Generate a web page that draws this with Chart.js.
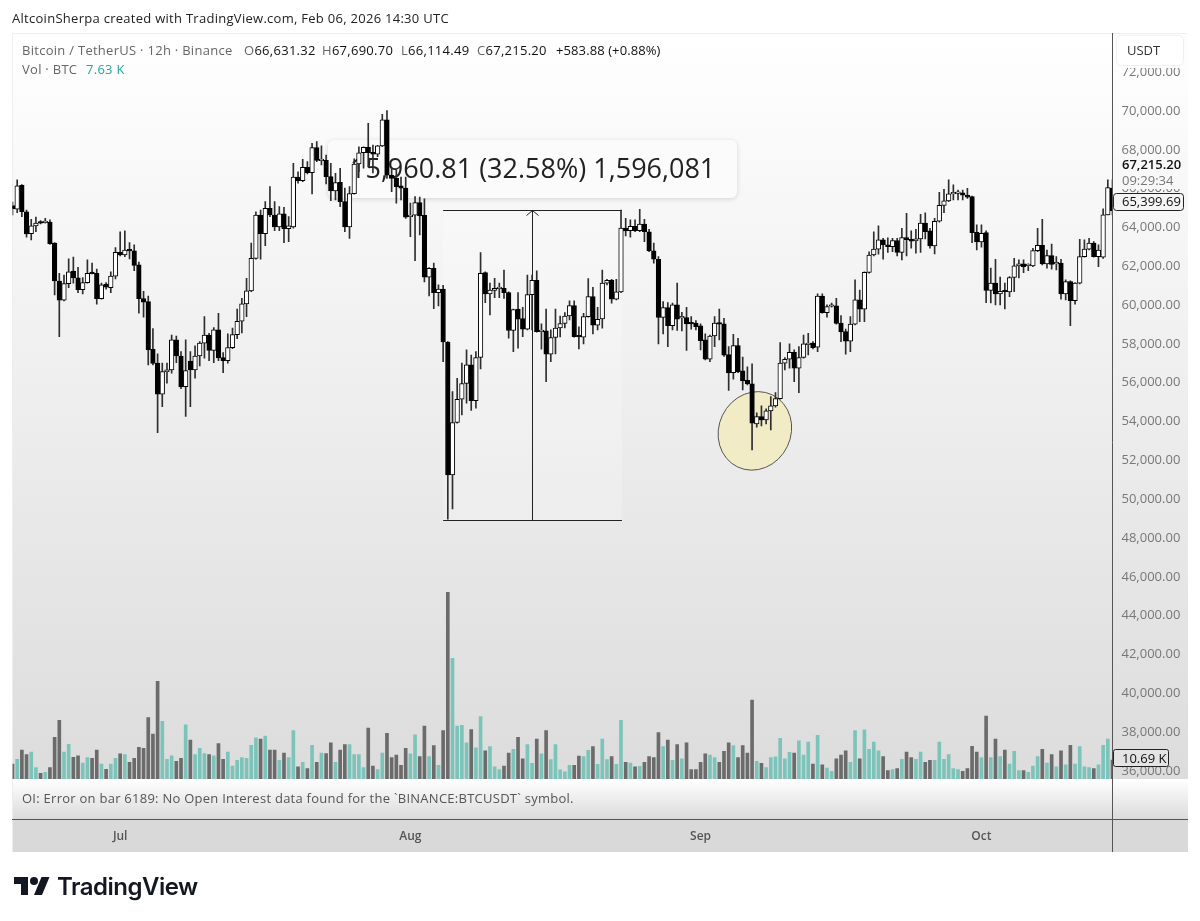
<!DOCTYPE html>
<html>
<head>
<meta charset="utf-8">
<title>BTCUSDT 12h</title>
<script src="https://cdn.jsdelivr.net/npm/chart.js@4/dist/chart.umd.js"></script>
<style>
html, body { margin: 0; padding: 0; background: #fff; }
#wrap { position: relative; width: 1200px; height: 921px; overflow: hidden; font-family: "Open Sans", sans-serif; }
#chart { position: absolute; left: 0; top: 0; }
.txt { position: absolute; font-size: 13px; line-height: 16px; white-space: nowrap; color: #666; letter-spacing: 0.28px; }
.txt b { font-weight: 400; color: #111; }
#logo { position: absolute; left: 14px; top: 875px; }
#brand { position: absolute; left: 57px; top: 869px; font: 600 24px/36px Inter, sans-serif; color: #131722; letter-spacing: -0.5px; }
</style>
</head>
<body>
<div id="wrap">
  <canvas id="chart" width="1200" height="921"></canvas>
  <div class="txt" style="left:12px;top:10px;color:#222">AltcoinSherpa created with TradingView.com, Feb 06, 2026 14:30 UTC</div>
  <div class="txt" style="left:22px;top:42px">Bitcoin / TetherUS · 12h · Binance</div>
  <div class="txt" style="left:244px;top:42px">O<b>66,631.32</b></div>
  <div class="txt" style="left:322px;top:42px">H<b>67,690.70</b></div>
  <div class="txt" style="left:401px;top:42px">L<b>66,114.49</b></div>
  <div class="txt" style="left:477px;top:42px">C<b>67,215.20</b></div>
  <div class="txt" style="left:556px;top:42px;letter-spacing:0.1px"><b>+583.88 (+0.88%)</b></div>
  <div class="txt" style="left:22px;top:61px">Vol · BTC</div>
  <div class="txt" style="left:86px;top:61px;color:#26a69a">7.63 K</div>
  <div class="txt" style="left:22px;top:790px;color:#555;letter-spacing:0.26px">OI: Error on bar 6189: No Open Interest data found for the `BINANCE:BTCUSDT` symbol.</div>
  <svg id="logo" width="36" height="22" viewBox="0 0 36 22"><path fill="#131722" d="M14 20H7V9H0V2h14v18zM28 20h-8l7.5-18h8L28 20z"/><circle fill="#131722" cx="20" cy="6" r="4"/></svg>
  <div id="brand">TradingView</div>
</div>
<script>
const opens = [
  65130,64940,66170,64810,63680,64080,64250,64250,64280,63190,
  61240,60250,61110,61750,61400,60800,61160,61660,61640,60330,
  61080,60900,61490,62720,62580,62840,62790,62080,60330,60180,
  57730,57010,55410,56570,56660,58210,57380,55800,57110,56660,
  57380,58040,58460,57660,58720,57300,57140,57810,58480,59170,
  60060,60730,62410,64640,63680,64990,64640,64030,64700,63940,
  64030,66590,66410,67100,66820,68110,67440,67460,66620,65880,
  66330,65330,64030,65740,67270,67850,68130,67870,67770,68200,
  69540,66700,66530,66140,66030,64560,64630,65280,64630,61440,
  61900,60640,60820,58100,51250,53950,55150,55960,56920,55080,
  57300,61670,60580,60750,60850,60870,60640,58690,59790,59300,
  58760,60540,61280,58630,58670,57470,58330,58820,59050,59440,
  59970,58410,58350,59410,60440,58960,59290,61130,61280,60300,
  60680,63970,63840,64060,63840,64170,63780,62790,62360,59360,
  59870,58940,60010,59340,59360,59070,59070,58930,58210,57210,
  58410,59080,59030,57450,56520,57910,56610,56130,55940,53880,
  54260,54090,54550,54810,55180,57010,57210,57570,56750,57300,
  57960,58040,57830,60470,59610,59940,59960,59070,58630,58140,
  59020,60270,59790,61690,62580,62880,63360,63110,63010,63320,
  62720,63480,63390,63310,63410,64220,63820,63050,64320,65140,
  65370,65730,65760,65790,65670,65590,63750,63250,63730,60750,
  61130,60580,60750,60680,61420,62020,62120,62030,62020,62810,
  63080,62120,62550,62120,62160,60580,61210,60230,61130,62500,
  62880,63190,62500,62470,64650,66030
];
const highs = [
  65310,66450,66210,64900,64420,64530,64350,64470,64390,63220,
  61640,61550,62380,62470,61950,61420,62330,62160,61850,61130,
  61160,61720,62960,63780,63820,63220,63100,62220,60710,60470,
  58790,57490,57010,57010,58450,58410,57600,58210,57600,57900,
  58120,59410,58550,58840,59580,57550,58520,58820,59790,60350,
  61380,63190,64810,64900,65330,66100,65330,65070,65040,64560,
  67310,66870,67510,67390,68340,68420,68200,67730,67310,66790,
  67050,66030,66100,67530,68160,68160,69370,68250,68230,69830,
  70020,67060,66960,66590,66600,65260,65590,65560,65480,61930,
  62160,61040,61020,58120,55550,56230,57010,57690,57430,57600,
  62700,61710,61130,61380,61140,61810,60690,59800,60640,59890,
  61550,61550,61760,59030,59800,58720,59800,59440,59610,60220,
  60220,58880,59580,61360,60920,59890,61810,61330,61330,61330,
  64900,64470,64390,64390,64940,64420,63910,63190,62500,60180,
  60130,60110,61130,59630,59890,59410,59200,59030,58520,58460,
  59410,59790,59320,57860,58500,58290,57320,56820,56970,54450,
  54810,54650,55290,55490,58070,57290,58000,57690,57860,58460,
  58550,58120,60580,60580,60010,60110,60350,59460,58770,59410,
  61300,60780,61720,62750,63780,64080,63440,63460,63440,63440,
  63960,64730,63820,63910,64680,64760,63960,64470,65810,65970,
  66450,66190,65930,65930,66020,65620,64130,64130,63820,61910,
  62360,61440,61130,61470,62410,62330,62330,62120,62930,63960,
  64420,62840,63150,62500,62360,61300,61250,61160,63390,63360,
  63440,63270,63100,64960,66450,66450
];
const lows = [
  64640,64760,64560,63500,63360,63780,64180,64220,63130,60520,
  58380,60220,60900,61130,60640,60580,61130,61610,60050,60300,
  60820,60640,61350,62530,62500,62380,61770,59580,59380,56920,
  56920,53430,54770,55980,56490,57040,55700,54260,54770,56230,
  56870,57260,57140,57040,57140,56520,57010,57760,58270,58570,
  59410,60690,62360,62360,63060,64560,63840,63840,63220,63270,
  63960,66280,66360,66760,65730,67390,67220,66240,65380,65420,
  65070,63780,63440,65710,66870,67060,67130,66810,67650,68160,
  66530,65840,65250,65420,64470,63530,62290,63610,61190,60470,
  59820,59960,57090,48970,49500,53920,54340,54950,54570,54690,
  56710,60130,59490,60380,60380,60350,58290,57600,57780,58380,
  58720,58720,58600,57730,56060,57090,57490,58360,58820,59240,
  58350,57740,58000,59380,58520,58720,58810,61040,60100,60270,
  60640,63560,63500,63780,63780,63270,62750,62160,58000,58520,
  57860,58720,58690,58670,57660,58760,58720,57690,57180,57090,
  57860,58210,57350,55600,56180,56520,55630,55890,52540,53710,
  53780,53880,53570,54740,55150,56660,56750,56060,55490,57260,
  57430,57740,57600,59580,59380,59890,59020,58120,57470,57600,
  58980,59150,59150,61640,62530,62620,62360,62720,62750,62530,
  62330,62530,62930,62670,62720,63410,62930,62640,64270,64760,
  65330,65420,65420,65420,65500,63220,62840,62980,60130,60110,
  60010,60010,59800,60440,60690,61400,61670,61780,61980,62750,
  62070,61900,61850,61810,60300,60270,58940,60050,61090,62470,
  62840,62470,61980,62410,64640,64640
];
const closes = [
  64970,66140,64810,63670,64080,64220,64220,64280,63170,61240,
  60250,61110,61720,61400,60800,61160,61640,61620,60330,61050,
  60920,61490,62720,62580,62840,62790,62050,60330,60150,57690,
  56990,55410,56570,56660,58210,57380,55790,56630,56660,57380,
  58040,58450,57660,58720,57280,57140,57810,58480,59170,60060,
  60730,62410,64640,63680,64990,64640,64030,64700,63940,64080,
  66590,66410,67100,66820,68110,67460,67480,66620,65880,66310,
  65330,64030,65740,67270,67850,68130,67850,67770,68200,69540,
  66700,66530,66100,66030,64530,64630,65280,64590,61440,61900,
  60640,60820,58100,51250,53950,55150,55960,56920,55080,57300,
  61640,60580,60780,60870,60880,60640,58690,59770,59270,58760,
  60540,61280,58630,58670,57470,58330,58820,59050,59440,59970,
  58380,58360,59410,60440,58960,59270,61130,61280,60300,60680,
  63970,63820,64060,63840,64170,63780,62790,62360,59360,59870,
  58940,60010,59270,59380,59030,59030,58890,58170,57210,58410,
  59070,59020,57420,56510,57910,56560,56100,55940,53920,54260,
  54090,54550,54810,55180,57010,57210,57570,56750,57300,58000,
  58040,57810,60470,59610,59920,59970,59050,58620,58140,59020,
  60270,59790,61690,62580,62880,63360,63100,63010,63320,62720,
  63480,63370,63290,63410,64220,63780,63050,64320,65140,65370,
  65730,65760,65790,65660,65560,63730,63250,63700,60750,61130,
  60580,60710,60690,61420,62020,62120,61980,62030,62810,63080,
  62120,62550,62100,62160,60580,61210,60230,61130,62500,62880,
  63190,62500,62840,64650,66050,64870
];
// volume in thousands of BTC
const volumes = [
  8.4,11.1,16.3,13.7,15.2,6.4,3.2,3.8,6.4,23.4,
  33,15.2,19.5,12.2,13.1,9,12,11.6,16.3,8.4,
  5.4,8.4,11.6,14.1,13.7,9.4,11.6,17.8,17.3,34.5,
  25.3,54.9,32.4,11.1,13.1,9.9,11.6,30.4,21.9,13.7,
  17.3,14.3,13.7,13.1,19.9,11.1,15.2,7.3,10.5,12,
  11.6,18.9,23.1,22.5,24.2,16.3,16.3,10.5,14.6,12,
  27.2,6.8,9.4,5.8,18.9,9.4,14.6,14.3,20.4,9.4,
  16.3,19.3,19.3,13.7,13.7,6.4,28.7,7.3,5.3,14.6,
  25.7,12,13.5,7.7,17.3,14.1,24.9,12.6,29.8,12.6,
  18.8,7.7,27.2,105,67.9,29.8,30.2,20.4,27.8,17.6,
  35.1,15.8,18.2,6.8,5.3,7.3,14.6,16.7,23.4,11.4,
  19.3,8.8,22.5,14.1,27.2,10.9,19.3,5.1,4.1,7.7,
  7.7,12.9,12.6,16.1,18.2,8.3,22.5,10.9,12.6,8.3,
  33,9.4,9,6.8,7.1,9.4,12.6,12,26.1,18.2,
  21.9,10.5,19.3,11.4,20.4,5.3,5.3,9.4,14.1,13.5,
  12,9.4,15.6,20.4,18.8,12,18.8,14.6,44.4,9.9,
  8.8,6.4,12,12.4,22.9,11.4,15,14.6,21.4,13.5,
  20.8,8.4,24.6,7.9,6.2,4.3,11.4,13.5,15.8,9.4,
  27.2,11.4,27.6,16.7,20.8,15.8,12.6,4.7,5.3,5.8,
  11.1,15.2,12,11.1,15.2,9.4,10.5,10.5,20.8,11.1,
  13.7,5.8,5.3,4.3,5.8,18.4,15.2,12,35.4,12,
  22.5,12.6,16.3,8.4,15.6,4.7,4.7,3.8,7.3,12.6,
  16.7,9,13.7,6.8,15.8,7.9,18.9,8.4,18.2,6.8,
  6.4,5.8,7.9,18.9,22.5,10.7
];
const monthNames = ['Jul', 'Aug', 'Sep', 'Oct'];
const monthIndexes = [23, 85, 147, 207];
const priceTicks = [36000,38000,40000,42000,44000,46000,48000,50000,52000,54000,56000,58000,60000,62000,64000,66000,68000,70000,72000];
const lastPrice = '67,215.20';
const countdown = '09:29:34';
const crossPrice = '65,399.69';
const crossVolume = '10.69 K';
const rangeLabel = '15,960.81 (32.58%) 1,596,081';
const rangeLow = 48910;
const rangeHigh = 64870;
const rangeFrom = 92;
const rangeTo = 130.2;
const circleIndex = 158.6;
const circlePrice = 53520;

const labels = opens.map(function(o, i) {
    const m = monthIndexes.indexOf(i);
    return m >= 0 ? monthNames[m] : '';
});
const isUp = opens.map(function(o, i) { return closes[i] >= o; });
const uiFont = '"Open Sans", sans-serif';

function box(ctx, x, y, w, h, r, fill, stroke) {
    ctx.beginPath();
    ctx.roundRect(x, y, w, h, r);
    if (fill) { ctx.fillStyle = fill; ctx.fill(); }
    if (stroke) { ctx.strokeStyle = stroke; ctx.lineWidth = 1; ctx.stroke(); }
}

const panelPlugin = {
    id: 'panel',
    beforeDraw: function(chart) {
        const ctx = chart.ctx;
        ctx.save();
        let g = ctx.createLinearGradient(0, 34, 0, 779);
        g.addColorStop(0, '#ffffff');
        g.addColorStop(1, '#dcdcdc');
        ctx.fillStyle = g;
        ctx.fillRect(12, 33, 1176, 746);
        g = ctx.createLinearGradient(0, 779, 0, 820);
        g.addColorStop(0, '#ffffff');
        g.addColorStop(1, '#dadada');
        ctx.fillStyle = g;
        ctx.fillRect(12, 779, 1176, 41);
        ctx.fillStyle = '#d9d9d9';
        ctx.fillRect(12, 820, 1176, 32);
        ctx.strokeStyle = '#eeeeee';
        ctx.beginPath();
        ctx.moveTo(12.5, 852);
        ctx.lineTo(12.5, 33.5);
        ctx.lineTo(1187.5, 33.5);
        ctx.stroke();
        ctx.restore();
    },
    beforeDatasetsDraw: function(chart) {
        const ctx = chart.ctx;
        const x = chart.scales.x;
        const y = chart.scales.y;
        const x1 = x.getPixelForValue(rangeFrom);
        const x2 = x.getPixelForValue(rangeTo);
        const yLow = Math.floor(y.getPixelForValue(rangeLow)) + 0.5;
        const yHigh = Math.floor(y.getPixelForValue(rangeHigh)) + 0.5;
        const xMid = Math.floor((x1 + x2) / 2) + 0.5;
        ctx.save();
        // price range drawing
        ctx.fillStyle = 'rgba(255,255,255,0.22)';
        ctx.fillRect(x1, yHigh, x2 - x1, yLow - yHigh);
        ctx.strokeStyle = '#222';
        ctx.lineWidth = 1;
        ctx.beginPath();
        ctx.moveTo(x1, yHigh); ctx.lineTo(x2, yHigh);
        ctx.moveTo(x1, yLow); ctx.lineTo(x2, yLow);
        ctx.moveTo(xMid, yLow); ctx.lineTo(xMid, yHigh);
        ctx.moveTo(xMid - 6, yHigh + 5); ctx.lineTo(xMid, yHigh); ctx.lineTo(xMid + 6, yHigh + 5);
        ctx.stroke();
        // range label sits under the candles
        ctx.shadowColor = 'rgba(0,0,0,0.15)';
        ctx.shadowBlur = 5;
        ctx.shadowOffsetY = 1;
        box(ctx, 328, 140, 409, 58, 6, '#fbfbfb');
        ctx.shadowColor = 'transparent';
        ctx.fillStyle = '#222';
        ctx.font = '27px ' + uiFont;
        ctx.textBaseline = 'middle';
        ctx.fillText(rangeLabel, 350, 170);
        // circle around the low
        const cx = x.getPixelForValue(circleIndex);
        const cy = y.getPixelForValue(circlePrice);
        ctx.beginPath();
        ctx.ellipse(cx, cy, 36, 40, 0.45, 0, Math.PI * 2);
        ctx.fillStyle = '#f1ebc6';
        ctx.fill();
        ctx.strokeStyle = '#555';
        ctx.stroke();
        ctx.restore();
    },
    afterDraw: function(chart) {
        const ctx = chart.ctx;
        ctx.save();
        ctx.strokeStyle = '#555';
        ctx.lineWidth = 1;
        ctx.beginPath();
        ctx.moveTo(1112.5, 33);
        ctx.lineTo(1112.5, 852);
        ctx.moveTo(12, 819.5);
        ctx.lineTo(1188, 819.5);
        ctx.stroke();

        // axis labels on the price scale
        ctx.textBaseline = 'middle';
        ctx.fillStyle = '#fdfdfd';
        ctx.fillRect(1114, 34, 73, 34);
        box(ctx, 1116.5, 35.5, 67, 30, 5, '#ffffff', '#f0f0f0');
        ctx.fillStyle = '#333';
        ctx.font = '13px ' + uiFont;
        ctx.fillText('USDT', 1127, 51);

        ctx.fillStyle = '#f8f8f8';
        ctx.fillRect(1114, 157, 72, 32);
        ctx.fillStyle = '#111';
        ctx.font = '600 13px ' + uiFont;
        ctx.fillText(lastPrice, 1122, 165);
        ctx.fillStyle = '#777';
        ctx.font = '13px ' + uiFont;
        ctx.fillText(countdown, 1122, 181);

        box(ctx, 1113.5, 193.5, 70, 17, 3, '#f4f4f4', '#222');
        ctx.fillStyle = '#111';
        ctx.fillText(crossPrice, 1122, 202);

        box(ctx, 1113.5, 749.5, 55, 17, 2, '#e4e4e4', '#222');
        ctx.fillStyle = '#111';
        ctx.fillText(crossVolume, 1122, 759);
        ctx.restore();
    }
};

new Chart(document.getElementById('chart'), {
    type: 'bar',
    data: {
        labels: labels,
        datasets: [{
            label: 'Volume',
            yAxisID: 'vol',
            order: 3,
            data: volumes,
            barThickness: 3,
            backgroundColor: isUp.map(function(u) { return u ? '#7cc4ba' : '#6b6b6b'; }),
        }, {
            label: 'Wicks',
            yAxisID: 'y',
            order: 2,
            data: lows.map(function(l, i) { return [l, highs[i]]; }),
            barThickness: 1,
            backgroundColor: '#2e2e2e',
        }, {
            label: 'Bodies',
            yAxisID: 'y',
            order: 1,
            data: opens.map(function(o, i) { return [o, closes[i]]; }),
            barThickness: 4.6,
            minBarLength: 1.5,
            borderWidth: 1,
            borderSkipped: false,
            borderColor: '#000',
            backgroundColor: isUp.map(function(u) { return u ? '#ffffff' : '#000000'; }),
        }]
    },
    options: {
        responsive: false,
        animation: false,
        devicePixelRatio: 1,
        layout: { padding: { left: 12.5, right: 12, top: 34, bottom: 70 } },
        datasets: { bar: { grouped: false } },
        plugins: { legend: { display: false }, tooltip: { enabled: false } },
        scales: {
            x: {
                offset: false,
                grid: { display: false },
                border: { display: false },
                afterFit: function(scale) {
                    // ticks.padding pushes labels below the OI pane, it must not inset the plot
                    scale.height = 72;
                    scale.paddingLeft = 0;
                    scale.paddingRight = 0;
                },
                ticks: {
                    autoSkip: false,
                    maxRotation: 0,
                    padding: 42,
                    color: '#555',
                    font: { family: uiFont, size: 12, weight: '600' },
                }
            },
            y: {
                position: 'right',
                min: 35585,
                max: 73967,
                grid: { display: false },
                border: { display: false },
                afterFit: function(scale) { scale.width = 75.5; },
                afterBuildTicks: function(scale) {
                    scale.ticks = priceTicks.map(function(v) { return { value: v }; });
                },
                ticks: {
                    padding: 1,
                    color: '#777',
                    font: { family: uiFont, size: 13 },
                    callback: function(v) {
                        return v.toLocaleString('en-US', { minimumFractionDigits: 2 });
                    }
                }
            },
            vol: { display: false, min: 0, max: 419 }
        }
    },
    plugins: [panelPlugin]
});
</script>
</body>
</html>
